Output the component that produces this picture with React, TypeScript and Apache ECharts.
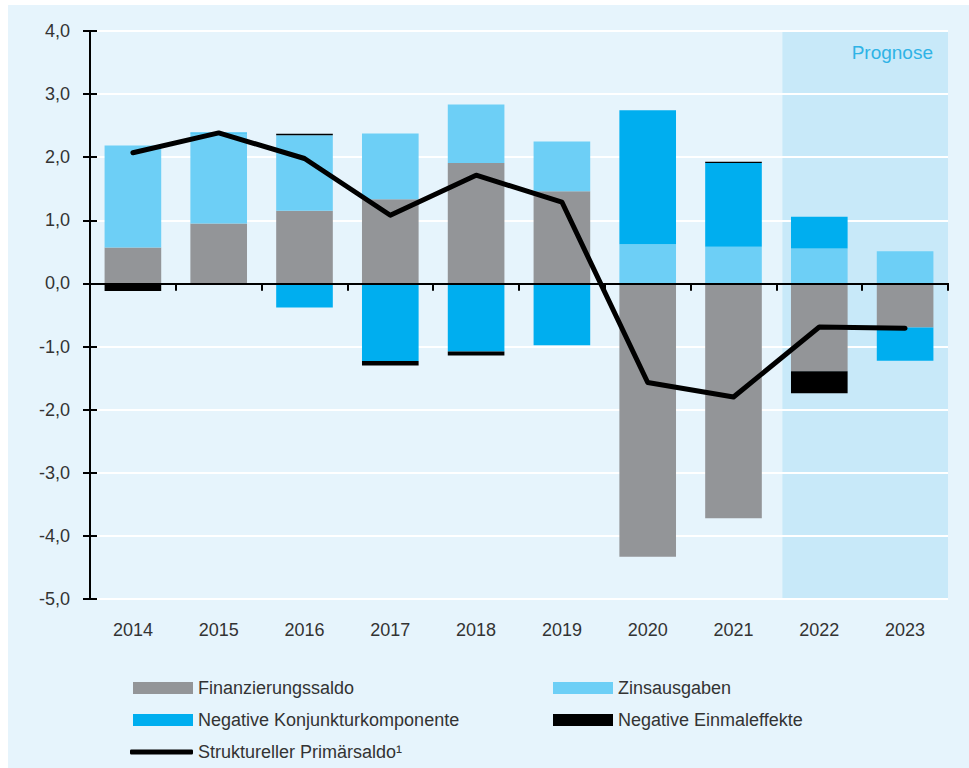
import React, { useEffect, useRef } from 'react';
import * as echarts from 'echarts';

const years = ['2014', '2015', '2016', '2017', '2018', '2019', '2020', '2021', '2022', '2023'];
const finanzierungssaldo = [0.57, 0.95, 1.15, 1.335, 1.91, 1.46, -4.33, -3.72, -1.39, -0.70];
const zinsausgaben = [1.615, 1.425, 1.2, 1.04, 0.925, 0.79, 0.62, 0.58, 0.555, 0.51];
const konjunktur = [0, 0.015, -0.38, -1.23, -1.08, -0.98, 2.125, 1.33, 0.5, -0.525];
const einmaleffekte = [-0.12, 0, 0.02, -0.07, -0.06, 0, 0, 0.02, -0.35, 0];
const primaersaldo = [2.07, 2.385, 1.98, 1.08, 1.715, 1.29, -1.57, -1.8, -0.69, -0.71];
const yTicks = { min: -5, max: 4, interval: 1 };
const prognoseStart = '2022';
const prognoseLabel = 'Prognose';

const names = {
  fin: 'Finanzierungssaldo',
  zins: 'Zinsausgaben',
  konj: 'Negative Konjunkturkomponente',
  ein: 'Negative Einmaleffekte',
  prim: 'Struktureller Primärsaldo¹',
};

const colors = {
  fin: '#939598',
  zins: '#6dcff6',
  konj: '#00aeef',
  ein: '#000000',
  prim: '#000000',
  panel: '#e6f4fc',
  shade: '#c8e9f9',
  prognose: '#2fb3e6',
  text: '#333333',
};

export default function App() {
  const ref = useRef<HTMLDivElement>(null);
  useEffect(() => {
    const chart = echarts.init(ref.current!, null, { renderer: 'svg' });
    const font = 'Liberation Sans';
    const legendText = { fontSize: 18, color: colors.text, fontFamily: font };
    const mkLegend = (name: string, left: number, top: number, extra: any = {}) => ({
      data: [{ name, icon: 'rect' }],
      left,
      top,
      padding: 0,
      itemWidth: 60,
      itemHeight: 12,
      itemGap: 0,
      textStyle: legendText,
      selectedMode: false,
      ...extra,
    });
    const barSeries = (name: string, data: number[], color: string) => ({
      name,
      type: 'bar',
      stack: 'total',
      data,
      barWidth: '66%',
      itemStyle: { color },
      xAxisIndex: 0,
      yAxisIndex: 0,
    });
    const yBase = {
      type: 'value',
      min: yTicks.min,
      max: yTicks.max,
      interval: yTicks.interval,
      position: 'left',
    };
    const xBase = { type: 'category', data: years, boundaryGap: true };
    const option: any = {
      animation: false,
      backgroundColor: '#ffffff',
      grid: { left: 90, right: 21, top: 31, bottom: 169 },
      xAxis: [
        {
          ...xBase,
          axisLine: { onZero: true, lineStyle: { color: '#000', width: 2 } },
          axisTick: { show: true, inside: false, length: 7, lineStyle: { color: '#000', width: 2 } },
          axisLabel: { show: false },
          splitLine: { show: false },
          z: 5,
        },
        {
          ...xBase,
          axisLine: { onZero: true, lineStyle: { color: '#000', width: 2 } },
          axisTick: { show: true, inside: true, length: 7, lineStyle: { color: '#000', width: 2 } },
          axisLabel: { show: false },
          splitLine: { show: false },
          z: 5,
        },
        {
          ...xBase,
          position: 'bottom',
          axisLine: { show: false, onZero: false },
          axisTick: { show: false },
          axisLabel: { show: true, fontSize: 18, color: colors.text, fontFamily: font, margin: 22 },
          splitLine: { show: false },
        },
      ],
      yAxis: [
        {
          ...yBase,
          axisLine: { show: true, lineStyle: { color: '#000', width: 2 } },
          axisTick: { show: true, inside: false, length: 7, lineStyle: { color: '#000', width: 2 } },
          axisLabel: {
            fontSize: 18,
            color: colors.text,
            fontFamily: font,
            margin: 20,
            formatter: (v: number) => v.toFixed(1).replace('.', ','),
          },
          splitLine: { show: true, lineStyle: { color: '#ffffff', width: 2 } },
        },
        {
          ...yBase,
          axisLine: { show: false },
          axisTick: { show: true, inside: true, length: 7, lineStyle: { color: '#000', width: 2 } },
          axisLabel: { show: false },
          splitLine: { show: false },
        },
      ],
      legend: [
        mkLegend(names.fin, 133, 679),
        mkLegend(names.zins, 553, 679),
        mkLegend(names.konj, 133, 711),
        mkLegend(names.ein, 553, 711),
        mkLegend(names.prim, 130, 743, {
          data: [{ name: names.prim, icon: 'roundRect' }],
          itemWidth: 63,
          itemHeight: 5,
        }),
      ],
      series: [
        barSeries(names.fin, finanzierungssaldo, colors.fin),
        barSeries(names.zins, zinsausgaben, colors.zins),
        barSeries(names.konj, konjunktur, colors.konj),
        barSeries(names.ein, einmaleffekte, colors.ein),
        {
          name: names.prim,
          type: 'line',
          data: primaersaldo,
          symbol: 'none',
          xAxisIndex: 0,
          yAxisIndex: 0,
          lineStyle: { color: colors.prim, width: 5, cap: 'round', join: 'round' },
          itemStyle: { color: colors.prim },
          z: 10,
        },
      ],
    };
    chart.setOption(option);

    const idx = years.indexOf(prognoseStart);
    const xs = chart.convertToPixel({ xAxisIndex: 0 }, years[idx]) as number;
    const xn = chart.convertToPixel({ xAxisIndex: 0 }, years[idx + 1]) as number;
    const band = xn - xs;
    const shadeLeft = xs - 0.43 * band;
    const shadeRight = xn + 0.5 * band;
    const yTop = chart.convertToPixel({ yAxisIndex: 0 }, yTicks.max) as number;
    const yBot = chart.convertToPixel({ yAxisIndex: 0 }, yTicks.min) as number;

    chart.setOption({
      graphic: [
        {
          id: 'panel',
          type: 'rect',
          z: -20,
          silent: true,
          shape: { x: 8, y: 5, width: 969 - 8, height: 768 - 5 },
          style: { fill: colors.panel },
        },
        {
          id: 'shade',
          type: 'rect',
          z: -10,
          silent: true,
          shape: { x: shadeLeft, y: yTop + 1, width: shadeRight - shadeLeft, height: yBot - yTop - 1 },
          style: { fill: colors.shade },
        },
        {
          id: 'prognose',
          type: 'text',
          z: 20,
          x: shadeRight - 15,
          y: yTop + 21,
          style: {
            text: prognoseLabel,
            fill: colors.prognose,
            fontSize: 19,
            fontFamily: font,
            align: 'right',
            verticalAlign: 'middle',
          },
        },
      ],
    });

    return () => chart.dispose();
  }, []);
  return (
    <div
      ref={ref}
      style={{ position: 'fixed', left: 0, top: 0, width: 969, height: 768 }}
    />
  );
}
